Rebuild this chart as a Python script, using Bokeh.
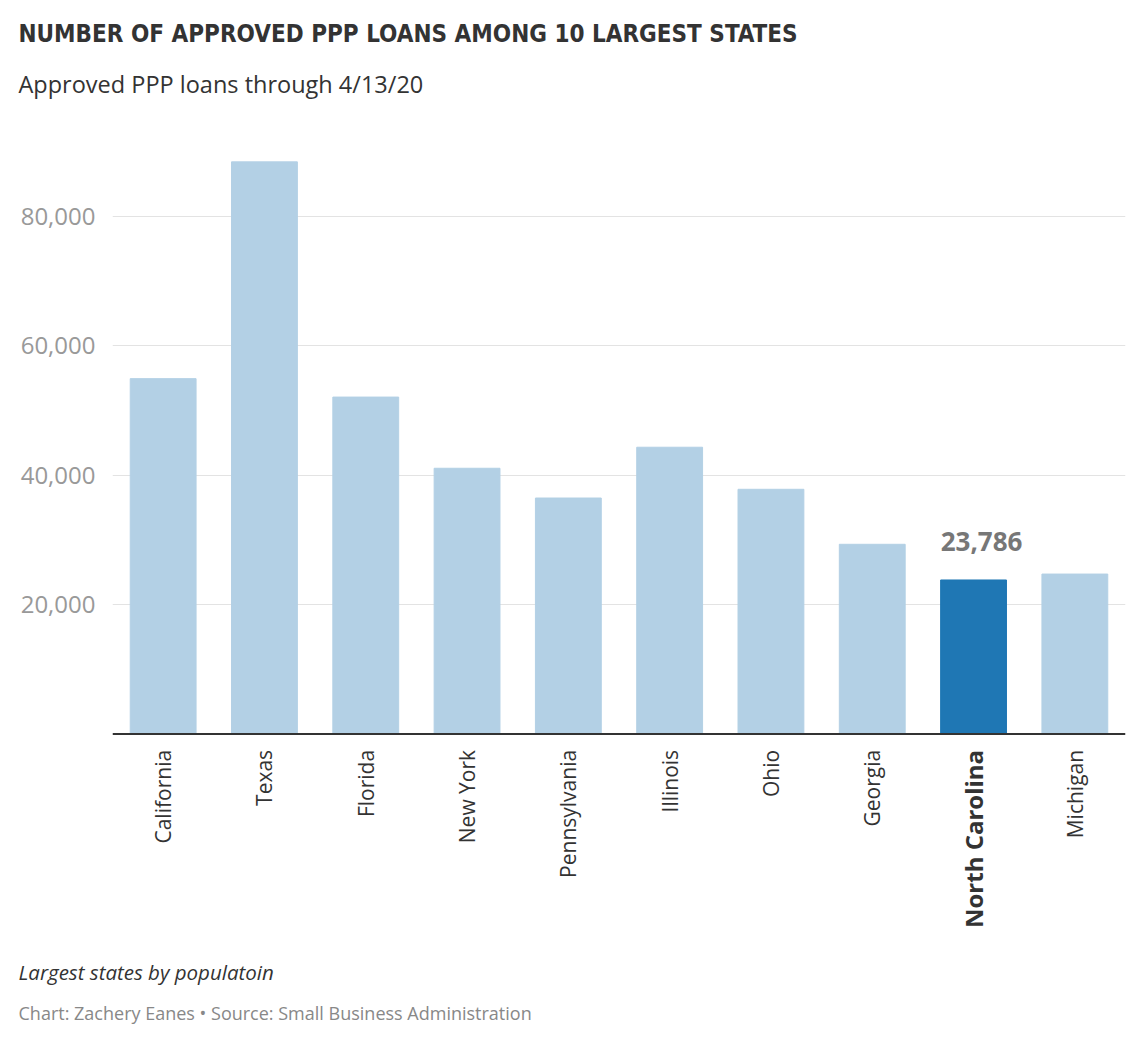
import math
from bokeh.plotting import figure
from bokeh.models import ColumnDataSource, Range1d, Label, FixedTicker, NumeralTickFormatter, Span, Title
from bokeh.embed import file_html
from bokeh.resources import INLINE

states = ["California", "Texas", "Florida", "New York", "Pennsylvania",
          "Illinois", "Ohio", "Georgia", "North Carolina", "Michigan"]
loans = [54900, 88400, 52050, 41050, 36450, 44300, 37800, 29300, 23786, 24700]
highlight = "North Carolina"
y_ticks = [20000, 40000, 60000, 80000]

title = "NUMBER OF APPROVED PPP LOANS AMONG 10 LARGEST STATES"
subtitle = "Approved PPP loans through 4/13/20"
note = "Largest states by populatoin"
credit = "Chart: Zachery Eanes \u2022 Source: Small Business Administration"

LIGHT = "#b3d0e5"
DARK = "#1f77b4"

xs = [i + 0.5 for i in range(len(states))]
colors = [DARK if s == highlight else LIGHT for s in states]
styles = ["bold" if s == highlight else "normal" for s in states]
sizes = ["24px" if s == highlight else "21px" for s in states]

src = ColumnDataSource(dict(x=xs, top=loans, state=states, color=colors,
                            style=styles, size=sizes, zero=[0] * len(states)))

p = figure(width=1140, height=1062, output_backend="svg", toolbar_location=None,
           x_range=Range1d(0, len(states)), y_range=Range1d(-32700, 90000),
           min_border_left=112, min_border_right=15, min_border_top=0,
           min_border_bottom=117)
p.outline_line_color = None
p.background_fill_color = "white"
p.border_fill_color = "white"
p.title.visible = False

p.vbar(x="x", top="top", width=0.65, bottom=0, source=src,
       fill_color="color", line_color="color", line_width=1)

# y axis
p.yaxis.ticker = FixedTicker(ticks=y_ticks)
p.yaxis.formatter = NumeralTickFormatter(format="0,0")
p.yaxis.axis_line_color = None
p.yaxis.major_tick_line_color = None
p.yaxis.minor_tick_line_color = None
p.yaxis.major_label_text_color = "#999999"
p.yaxis.major_label_text_font = "Open Sans"
p.yaxis.major_label_text_font_size = "24px"
p.yaxis.major_label_standoff = 11

p.xaxis.visible = False
p.xgrid.grid_line_color = None
p.ygrid.grid_line_color = "#e3e3e3"
p.ygrid.grid_line_width = 1

# baseline
p.add_layout(Span(location=0, dimension="width", line_color="#333333", line_width=2))

# category labels, rotated
p.text(x="x", y="zero", text="state", source=src, angle=math.pi / 2,
       text_align="right", text_baseline="middle", y_offset=16,
       text_font={"value": "Open Sans"}, text_font_size="size",
       text_font_style="style", text_color="#333333")

# value label for highlight
hi = states.index(highlight)
p.add_layout(Label(x=xs[hi], y=loans[hi], text=f"{loans[hi]:,}", y_offset=38,
                   x_offset=8, text_align="center", text_baseline="alphabetic",
                   text_font="Open Sans", text_font_size="26px",
                   text_font_style="bold", text_color="#777777"))

# titles above (later added = further from frame)
p.add_layout(Title(text=" ", text_font_size="1px", standoff=49), "above")
p.add_layout(Title(text=subtitle, align="left", offset=-94, text_font="Open Sans",
                   text_font_size="23.5px", text_font_style="normal",
                   text_color="#333333", standoff=0), "above")
p.add_layout(Title(text=title, align="left", offset=-94,
                   text_font="'DejaVu Sans Condensed', Roboto", text_font_size="24px",
                   text_font_style="bold", text_color="#333333", standoff=35), "above")
# footer below (first added = nearest frame)
p.add_layout(Title(text=note, align="left", offset=-94, text_font="Open Sans",
                   text_font_size="20.5px", text_font_style="italic",
                   text_color="#333333", standoff=20), "below")
p.add_layout(Title(text=credit, align="left", offset=-94, text_font="Open Sans",
                   text_font_size="18px", text_font_style="normal",
                   text_color="#888888", standoff=7), "below")

open("out.html", "w").write(file_html(p, INLINE))
